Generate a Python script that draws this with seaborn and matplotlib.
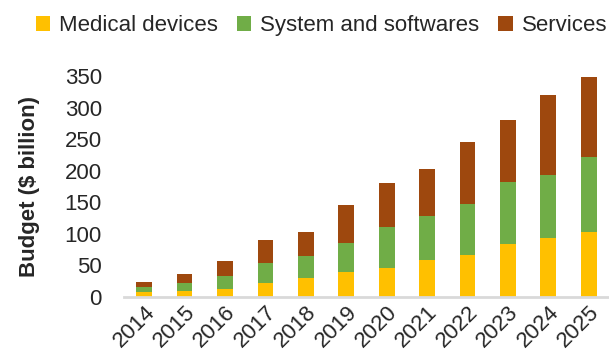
import matplotlib
matplotlib.use("Agg")
import matplotlib.pyplot as plt
import seaborn as sns
import numpy as np
import pandas as pd
from matplotlib.patches import Patch

years = ["2014", "2015", "2016", "2017", "2018", "2019", "2020", "2021", "2022", "2023", "2024", "2025"]
medical_devices = [7, 9, 12, 21.5, 29.5, 39, 45, 57.5, 66, 83.5, 93, 102.5]
system_softwares = [8, 13, 20.5, 31.5, 35, 45.5, 65.5, 71, 81, 97.5, 100, 119]
services = [7.5, 14, 24, 37, 38.5, 61, 69.5, 74.5, 98, 99, 127, 127.5]
series_names = ["Medical devices", "System and softwares", "Services"]
colors = ["#FFC000", "#70AD47", "#9E480E"]

sns.set_style("white")
plt.rcParams["font.family"] = ["Liberation Sans", "DejaVu Sans"]

df = pd.DataFrame({
    "year": years,
    "med": medical_devices,
    "sys": system_softwares,
    "srv": services,
})
df["lvl1"] = df["med"]
df["lvl2"] = df["med"] + df["sys"]
df["lvl3"] = df["lvl2"] + df["srv"]

fig = plt.figure(figsize=(6.09, 3.64), dpi=100)
ax = fig.add_axes([0.2036, 0.1854, 0.7964, 0.6058])

w = 0.39
sns.barplot(data=df, x="year", y="lvl3", color=colors[2], saturation=1, width=w, ax=ax, linewidth=0)
sns.barplot(data=df, x="year", y="lvl2", color=colors[1], saturation=1, width=w, ax=ax, linewidth=0)
sns.barplot(data=df, x="year", y="lvl1", color=colors[0], saturation=1, width=w, ax=ax, linewidth=0)

ax.set_xlim(-0.5, 11.5)
ax.set_ylim(0, 350)
ax.set_yticks(np.arange(0, 351, 50))
ax.set_xlabel("")
ax.set_ylabel("Budget ($ billion)", fontsize=16, fontweight="bold", labelpad=18)
for s in ["top", "right", "left"]:
    ax.spines[s].set_visible(False)
ax.spines["bottom"].set_color("#D9D9D9")
ax.spines["bottom"].set_linewidth(2)
ax.tick_params(axis="both", length=0, labelsize=16)
ax.tick_params(axis="y", pad=16)
ax.tick_params(axis="x", pad=4)
plt.setp(ax.get_xticklabels(), rotation=45, ha="right", rotation_mode="anchor")

handles = [Patch(facecolor=c, edgecolor="none") for c in colors]
fig.legend(handles, series_names, loc="center", bbox_to_anchor=(0.528, 0.93),
           ncol=3, frameon=False, fontsize=16, handlelength=0.65, handleheight=0.65,
           handletextpad=0.4, columnspacing=0.85, borderaxespad=0)

fig.savefig("out.png", dpi=100)
